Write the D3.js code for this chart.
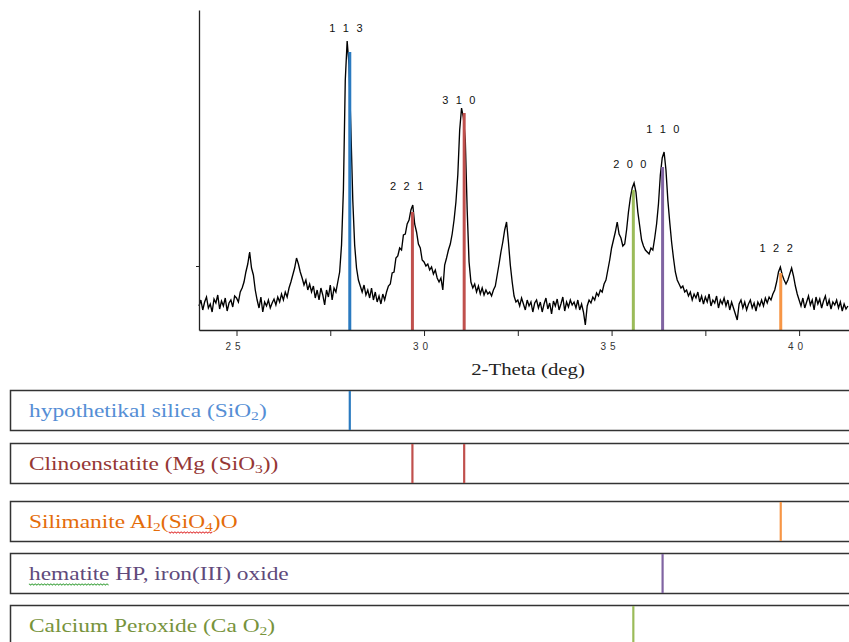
<!DOCTYPE html>
<html lang="en">
	<head>
		<meta charset="utf-8">
		<title>XRD pattern with phase cards</title>
		<script type="text/javascript" src="https://d3js.org/d3.v7.min.js"></script>
		<style type="text/css">
			body { margin: 0; background: #fff; }
			svg { display: block; }
		</style>
	</head>
	<body>
		<script type="text/javascript">
			//Width and height
			var w = 849;
			var h = 642;

			//Measured pattern: 2-theta from 24.00 in steps of 0.05 deg, intensity in counts
			var thetaStart = 24.0;
			var thetaStep = 0.05;
			var intensity = [
				120,150,100,140,165,110,130,90,155,135,175,105,145,120,160,95,135,150,115,170,
				160,140,190,210,240,290,330,390,310,275,200,150,110,165,90,140,120,150,110,135,
				155,125,165,140,180,150,190,165,210,240,275,310,360,330,290,260,225,250,200,230,
				190,220,160,200,150,210,175,125,200,165,225,150,210,190,240,290,425,700,1250,1445,
				1325,1000,650,425,310,250,220,190,225,175,200,160,210,150,190,140,170,130,180,150,
				190,220,230,285,290,360,370,410,400,475,480,530,550,600,625,530,490,430,410,350,
				340,320,330,300,315,280,300,260,240,260,200,325,360,400,430,480,550,640,775,1000,
				1110,1060,950,600,340,240,210,230,190,220,180,210,175,200,180,190,170,200,220,275,
				330,390,440,500,540,440,325,240,170,140,150,120,160,130,100,150,120,140,90,135,
				150,110,140,90,130,160,105,135,80,145,120,155,100,130,165,95,140,115,150,125,
				140,110,150,100,130,90,25,120,150,135,165,150,185,170,200,190,230,250,300,350,
				410,450,490,540,480,460,420,430,500,590,660,710,735,690,590,520,450,420,400,390,
				380,410,400,460,530,630,775,860,890,800,650,540,440,360,290,250,230,210,220,190,
				200,170,190,150,180,160,190,140,170,130,165,140,180,120,150,135,170,110,150,130,
				160,120,150,100,140,110,80,50,130,150,110,140,100,130,150,110,135,95,140,120,
				150,120,160,135,165,150,180,200,240,290,315,275,250,230,250,280,310,270,220,180,
				150,120,160,110,140,170,125,150,100,165,130,155,110,145,170,120,150,105,140,125,
				150,110,140,95,130,105,120
			];

			//Indexed reflections
			var peakHkl = ["1 1 3", "2 2 1", "3 1 0", "2 0 0", "1 1 0", "1 2 2"];
			var peakTheta = [28.02, 29.69, 31.07, 35.58, 36.36, 39.51];
			var peakTop = [1390, 590, 1085, 700, 815, 285];
			var peakPhase = [0, 1, 1, 4, 3, 2];
			var labelTheta = [27.92, 29.54, 30.93, 35.49, 36.37, 39.39];
			var labelCounts = [1510, 720, 1150, 830, 1005, 410];

			//Axis ticks
			var xTicks = [25, 27.5, 30, 32.5, 35, 37.5, 40];
			var xTickLabels = ["25", "", "30", "", "35", "", "40"];
			var yTicks = [320];

			//Phases (name pieces: [text, "sub" | "" | "squiggle"])
			var phaseNames = [
				[["hypothetikal silica  (SiO", ""], ["2", "sub"], [")", ""]],
				[["Clinoenstatite (Mg (SiO", ""], ["3", "sub"], ["))", ""]],
				[["Silimanite Al", ""], ["2", "sub"], ["(", ""], ["SiO", "squiggle"], ["4", "subsquiggle"], [")O", ""]],
				[["hematite", "squiggle"], [" HP, iron(III) oxide", ""]],
				[["Calcium Peroxide (Ca O", ""], ["2", "sub"], [")", ""]]
			];
			var phaseText = ["#558ed5", "#953735", "#e46c0a", "#604a7b", "#77933c"];
			var phaseLine = ["#2a7ac0", "#c0504d", "#f79646", "#8064a2", "#9bbb59"];
			var squiggleColor = ["", "", "#e03030", "#3aa03a", ""];

			var xScale = d3.scaleLinear()
							.domain([24, 41.33])
							.range([199, 849]);

			var yScale = d3.scaleLinear()
							.domain([0, 1600])
							.range([330, 10]);

			//Create SVG element
			var svg = d3.select("body")
						.append("svg")
						.attr("width", w)
						.attr("height", h);

			//Pattern
			var line = d3.line()
						.x(function(d, i) { return xScale(thetaStart + i * thetaStep); })
						.y(function(d) { return yScale(d); });

			svg.append("path")
			   .datum(intensity)
			   .attr("d", line)
			   .attr("fill", "none")
			   .attr("stroke", "#000")
			   .attr("stroke-width", 1.35)
			   .attr("stroke-linejoin", "miter");

			//Reflection markers
			svg.selectAll("line.peak")
			   .data(peakTheta)
			   .enter()
			   .append("line")
			   .attr("class", "peak")
			   .attr("x1", function(d) { return xScale(d); })
			   .attr("x2", function(d) { return xScale(d); })
			   .attr("y1", yScale(0))
			   .attr("y2", function(d, i) { return yScale(peakTop[i]); })
			   .attr("stroke", function(d, i) { return phaseLine[peakPhase[i]]; })
			   .attr("stroke-width", 3);

			svg.selectAll("text.hkl")
			   .data(peakHkl)
			   .enter()
			   .append("text")
			   .attr("class", "hkl")
			   .text(function(d) { return d; })
			   .attr("x", function(d, i) { return xScale(labelTheta[i]) + 1; })
			   .attr("y", function(d, i) { return yScale(labelCounts[i]); })
			   .attr("dy", "0.35em")
			   .attr("text-anchor", "middle")
			   .attr("font-family", "Liberation Sans, Arial, sans-serif")
			   .attr("font-size", "11px")
			   .attr("letter-spacing", "2.2px")
			   .attr("fill", "#111");

			//Axes
			var xAxis = d3.axisBottom(xScale)
						.tickValues(xTicks)
						.tickSize(6)
						.tickSizeOuter(0)
						.tickFormat(function(d, i) { return xTickLabels[i]; });

			var gx = svg.append("g")
						.attr("transform", "translate(0," + yScale(0) + ")")
						.call(xAxis);
			gx.select(".domain").attr("stroke", "#222").attr("stroke-width", 1.3);
			gx.selectAll(".tick line").attr("stroke", "#222");
			gx.selectAll(".tick text")
			  .attr("y", 13)
			  .attr("x", -2)
			  .attr("font-family", "Liberation Sans, Arial, sans-serif")
			  .attr("font-size", "10px")
			  .attr("letter-spacing", "4px")
			  .attr("fill", "#333");

			var yAxis = d3.axisLeft(yScale)
						.tickValues(yTicks)
						.tickSize(3)
						.tickSizeOuter(0)
						.tickFormat("");

			var gy = svg.append("g")
						.attr("transform", "translate(" + xScale(24) + ",0)")
						.call(yAxis);
			gy.select(".domain").attr("stroke", "#222").attr("stroke-width", 1.3);
			gy.selectAll(".tick line").attr("stroke", "#222");

			svg.append("text")
			   .text("2-Theta (deg)")
			   .attr("transform", "translate(528,375) scale(1.3,1)")
			   .attr("text-anchor", "middle")
			   .attr("font-family", "Liberation Serif, Times New Roman, serif")
			   .attr("font-size", "16px")
			   .attr("fill", "#222");

			//Phase cards
			var boxTop = [390, 443, 501, 553, 605];
			var boxH = 40;

			var cards = svg.selectAll("g.card")
						.data(phaseNames)
						.enter()
						.append("g")
						.attr("class", "card")
						.attr("transform", function(d, i) { return "translate(0," + boxTop[i] + ")"; });

			cards.append("rect")
				 .attr("x", 10.5)
				 .attr("y", 0.5)
				 .attr("width", 860)
				 .attr("height", boxH)
				 .attr("fill", "#fff")
				 .attr("stroke", "#333")
				 .attr("stroke-width", 1.5);

			var labels = cards.append("g")
				 .attr("transform", "translate(29,27) scale(1.3,1)");

			var names = labels.append("text")
				 .attr("font-family", "Liberation Serif, Times New Roman, serif")
				 .attr("font-size", "18px")
				 .attr("fill", function(d, i) { return phaseText[i]; });

			names.each(function(parts, i) {
				var t = d3.select(this);
				parts.forEach(function(p) {
					var sp = t.append("tspan").text(p[0]);
					if (p[1].indexOf("sub") >= 0) {
						sp.attr("font-size", "12px").attr("dy", 3);
					}
					if (p[1].indexOf("squiggle") >= 0) sp.attr("class", "sq");
					//back to baseline after a subscript
					if (p[1].indexOf("sub") < 0 && sp.node().previousSibling &&
						d3.select(sp.node().previousSibling).attr("dy") == 3) {
						sp.attr("dy", -3);
					}
				});
			});

			//spell-check squiggles
			names.each(function(parts, i) {
				var spans = d3.select(this).selectAll("tspan.sq").nodes();
				if (!spans.length) return;
				var x0 = spans[0].getStartPositionOfChar(0).x;
				var last = spans[spans.length - 1];
				var x1 = last.getEndPositionOfChar(last.textContent.length - 1).x;
				var pts = [];
				for (var x = x0, k = 0; x <= x1; x += 1.2, k++) {
					pts.push([x, 4 + (k % 2 ? 1.2 : -0.2)]);
				}
				d3.select(this.parentNode).append("path")
				  .attr("d", d3.line()(pts))
				  .attr("fill", "none")
				  .attr("stroke", squiggleColor[i])
				  .attr("stroke-width", 0.8);
			});

			//markers inside each card
			cards.each(function(d, i) {
				var g = d3.select(this);
				peakTheta.forEach(function(t, j) {
					if (peakPhase[j] !== i) return;
					g.append("line")
					 .attr("x1", xScale(t))
					 .attr("x2", xScale(t))
					 .attr("y1", 1)
					 .attr("y2", boxH)
					 .attr("stroke", phaseLine[i])
					 .attr("stroke-width", 2.2);
				});
			});
		</script>
	</body>
</html>
